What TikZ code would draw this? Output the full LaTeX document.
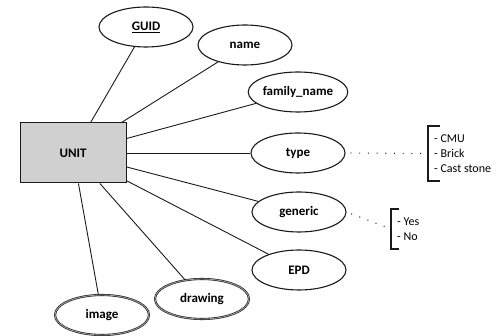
\documentclass[tikz,border=0pt]{standalone}
\usepackage{fontspec}
\setmainfont{Carlito}
\usetikzlibrary{shapes.geometric}
\definecolor{Ink}{HTML}{1A1A1A}
\definecolor{BoxGray}{HTML}{D0D0D0}
\definecolor{RimGray}{HTML}{9A9A9A}

\begin{document}
\begin{tikzpicture}[
    x=1pt,y=-1pt,
    entity/.style={draw=Ink, line width=1pt, fill=BoxGray,
      minimum width=106pt, minimum height=60pt, inner sep=0pt,
      font=\fontsize{13pt}{15pt}\selectfont\bfseries},
    attr/.style={ellipse, draw=Ink, line width=1.1pt, fill=white,
      minimum width=94pt, minimum height=40pt, inner sep=0pt,
      font=\fontsize{13pt}{15pt}\selectfont\bfseries},
    multi/.style={attr, draw=Ink, line width=0.6pt, double=RimGray,
      double distance=0.9pt},
    vals/.style={align=left, inner xsep=6pt, inner ysep=0pt,
      font=\fontsize{12pt}{15pt}\selectfont},
    brace/.style={draw=Ink, line width=1.6pt},
    link/.style={draw=Ink, line width=0.9pt},
    hint/.style={draw=Ink, line width=1.1pt, dash pattern=on 0.9pt off 7.8pt,
      shorten <=5pt}
  ]
    \useasboundingbox (0,0) rectangle (504,336);

    \node[entity] (unit) at (73,153) {UNIT};

    \node[attr] (guid) at (146,27) {\underline{GUID}};
    \node[attr] (name) at (245,45) {name};
    \node[attr] (family) at (298,92) {family\_name};
    \node[attr] (type) at (298,153) {type};
    \node[attr] (generic) at (299,212) {generic};
    \node[attr] (epd) at (299,270) {EPD};
    \node[multi] (drawing) at (202,299) {drawing};
    \node[multi] (image) at (102,315) {image};

    % value lists
    \node[vals, anchor=west, minimum height=55pt] (typevals) at (428,153.5) {
      - CMU\\
      - Brick\\
      - Cast stone
    };
    \node[vals, anchor=west, minimum height=40pt] (genvals) at (391,229) {
      - Yes\\
      - No
    };

    \draw[brace] ([xshift=12pt]typevals.north west) -- (typevals.north west)
      -- (typevals.south west) -- ++(12,0);
    \draw[brace] ([xshift=8pt]genvals.north west) -- (genvals.north west)
      -- (genvals.south west) -- ++(8,0);

    \draw[link] (unit) -- (guid);
    \draw[link] (unit) -- (name);
    \draw[link] (unit) -- (family);
    \draw[link] (unit) -- (type);
    \draw[link] (unit) -- (generic);
    \draw[link] (unit) -- (epd);
    \draw[link] (unit) -- (drawing);
    \draw[link] (unit) -- (image);

    \draw[hint] (type.east) -- (typevals.west);
    \draw[hint] (generic.east) -- (genvals.west);
  \end{tikzpicture}
\end{document}
